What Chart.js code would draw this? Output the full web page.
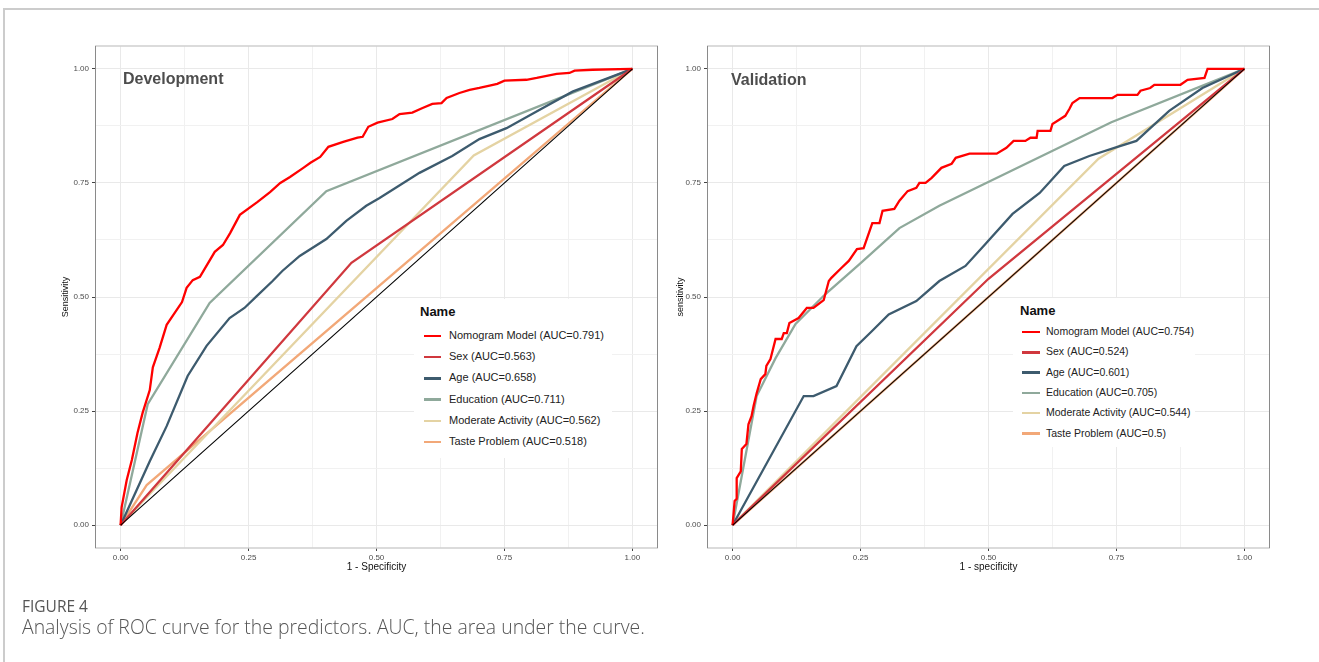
<!DOCTYPE html>
<html><head><meta charset="utf-8">
<script src="https://cdn.jsdelivr.net/npm/chart.js@4.4.1/dist/chart.umd.min.js"></script>
<style>
html,body{margin:0;padding:0;background:#fff;}
body{width:1319px;height:662px;position:relative;overflow:hidden;font-family:"Liberation Sans",Arial,sans-serif;}
#frameTop{position:absolute;left:3px;top:8px;width:1316px;height:0;border-top:2px solid #cccccc;}
#frameLeft{position:absolute;left:3px;top:8px;width:0;height:654px;border-left:2px solid #cccccc;}
canvas{position:absolute;top:0;}
.ptitle{position:absolute;font-weight:bold;font-size:16px;color:#4d4d4d;line-height:16px;white-space:nowrap;}
.legend{position:absolute;background:#fff;}
.legend .lt{position:absolute;font-weight:bold;font-size:13px;color:#111;line-height:13px;white-space:nowrap;}
.legend .key{position:absolute;height:2.5px;}
.legend .lab{position:absolute;font-size:11px;color:#222;white-space:nowrap;line-height:11px;}
.cap1{position:absolute;left:22px;top:597px;font-family:"Open Sans",sans-serif;font-size:15.5px;color:#555;line-height:18px;}
.cap2{position:absolute;left:22px;top:615px;font-family:"Open Sans",sans-serif;font-size:19.4px;font-weight:300;color:#555;line-height:24px;white-space:nowrap;}
</style></head>
<body>
<div id="frameTop"></div><div id="frameLeft"></div>
<canvas id="devChart" width="660" height="600" style="left:0px"></canvas>
<canvas id="valChart" width="659" height="600" style="left:660px"></canvas>
<div class="ptitle" style="left:123px;top:71px">Development</div>
<div class="ptitle" style="left:731px;top:72px">Validation</div>
<div id="devLegend" class="legend" style="left:414px;top:299px;width:198px;height:159px"></div>
<div id="valLegend" class="legend" style="left:1013px;top:298px;width:182px;height:149px"></div>
<div class="cap1">FIGURE 4</div>
<div class="cap2">Analysis of ROC curve for the predictors. AUC, the area under the curve.</div>
<script>
// ---------- data ----------
const seriesNames = ['Nomogram Model', 'Sex', 'Age', 'Education', 'Moderate Activity', 'Taste Problem'];
const seriesColors = ['#ff0000', '#d0383e', '#3d5b6e', '#8fa99b', '#e4d3a3', '#f2a878'];
const devAUC = ['0.791', '0.563', '0.658', '0.711', '0.562', '0.518'];
const valAUC = ['0.754', '0.524', '0.601', '0.705', '0.544', '0.5'];
const tickValues = [0, 0.125, 0.25, 0.375, 0.5, 0.625, 0.75, 0.875, 1];
const reference = [[0, 0], [1, 1]];

// Development cohort ROC points [1 - specificity, sensitivity]
const devNomogram = [[0,0],[0.002,0.039],[0.012,0.099],[0.022,0.143],[0.033,0.202],[0.043,0.246],[0.057,0.296],[0.063,0.346],[0.076,0.388],[0.090,0.439],[0.120,0.489],[0.129,0.520],[0.141,0.537],[0.155,0.544],[0.184,0.599],[0.200,0.614],[0.214,0.640],[0.233,0.680],[0.267,0.708],[0.292,0.730],[0.312,0.750],[0.331,0.763],[0.357,0.783],[0.371,0.794],[0.390,0.807],[0.406,0.829],[0.435,0.840],[0.463,0.849],[0.473,0.851],[0.484,0.873],[0.502,0.882],[0.531,0.890],[0.545,0.901],[0.570,0.904],[0.590,0.914],[0.609,0.923],[0.627,0.925],[0.637,0.936],[0.662,0.947],[0.682,0.954],[0.701,0.958],[0.721,0.963],[0.736,0.967],[0.750,0.974],[0.793,0.976],[0.813,0.980],[0.852,0.989],[0.877,0.991],[0.887,0.996],[0.922,0.998],[1,1]];
const devSex = [[0,0],[0.451,0.575],[1,1]];
const devAge = [[0,0],[0.057,0.140],[0.090,0.217],[0.131,0.327],[0.168,0.393],[0.213,0.454],[0.242,0.476],[0.266,0.502],[0.297,0.535],[0.316,0.557],[0.350,0.590],[0.402,0.627],[0.441,0.667],[0.480,0.700],[0.506,0.717],[0.584,0.772],[0.648,0.809],[0.701,0.846],[0.754,0.870],[0.818,0.910],[0.883,0.950],[1,1]];
const devEducation = [[0,0],[0.053,0.265],[0.174,0.487],[0.402,0.732],[1,1]];
const devActivity = [[0,0],[0.05,0.06],[0.69,0.81],[1,1]];
const devTaste = [[0,0],[0.051,0.088],[1,1]];

// Validation cohort ROC points
const valNomogram = [[0,0],[0.004,0.053],[0.008,0.058],[0.008,0.103],[0.016,0.118],[0.018,0.167],[0.027,0.178],[0.031,0.221],[0.037,0.239],[0.041,0.261],[0.047,0.289],[0.055,0.320],[0.064,0.331],[0.066,0.349],[0.074,0.364],[0.084,0.408],[0.096,0.408],[0.100,0.421],[0.106,0.421],[0.111,0.443],[0.129,0.454],[0.145,0.476],[0.158,0.476],[0.178,0.493],[0.188,0.535],[0.193,0.542],[0.213,0.564],[0.227,0.579],[0.243,0.605],[0.256,0.607],[0.273,0.662],[0.287,0.662],[0.293,0.689],[0.316,0.693],[0.326,0.711],[0.342,0.732],[0.359,0.739],[0.365,0.750],[0.377,0.750],[0.389,0.761],[0.408,0.783],[0.428,0.792],[0.436,0.805],[0.463,0.814],[0.516,0.814],[0.535,0.827],[0.549,0.842],[0.572,0.842],[0.582,0.849],[0.594,0.849],[0.596,0.864],[0.621,0.864],[0.625,0.879],[0.635,0.886],[0.650,0.897],[0.658,0.912],[0.664,0.925],[0.678,0.936],[0.742,0.936],[0.752,0.943],[0.791,0.943],[0.797,0.952],[0.816,0.958],[0.824,0.965],[0.875,0.965],[0.889,0.976],[0.922,0.980],[0.928,1.0],[1,1]];
const valSex = [[0,0],[0.5,0.54],[1,1]];
const valAge = [[0,0],[0.139,0.283],[0.158,0.283],[0.203,0.305],[0.242,0.392],[0.272,0.425],[0.305,0.462],[0.359,0.491],[0.404,0.535],[0.455,0.568],[0.494,0.616],[0.547,0.682],[0.600,0.728],[0.648,0.787],[0.697,0.809],[0.752,0.829],[0.789,0.842],[0.814,0.868],[0.853,0.908],[0.918,0.958],[1,1]];
const valEducation = [[0,0],[0.047,0.283],[0.084,0.366],[0.123,0.441],[0.182,0.507],[0.248,0.572],[0.326,0.651],[0.404,0.700],[0.74,0.883],[1,1]];
const valActivity = [[0,0],[0.715,0.803],[1,1]];
const valTaste = [[0,0],[1,1]];

// ---------- drawing ----------
const FONT = '"Liberation Sans", Arial, sans-serif';
const isMajor = v => Math.abs(v * 4 - Math.round(v * 4)) < 1e-6;

const framePlugin = {
  id: 'frame',
  beforeDatasetsDraw(chart) {
    const a = chart.chartArea, c = chart.ctx;
    c.save();
    c.strokeStyle = '#cfcfcf'; c.lineWidth = 1.5;
    c.beginPath(); c.moveTo(a.left, a.top); c.lineTo(a.right, a.top);
    c.moveTo(a.left, a.bottom); c.lineTo(a.right, a.bottom); c.stroke();
    c.strokeStyle = '#8a8a8a'; c.lineWidth = 1;
    c.beginPath(); c.moveTo(a.left + 0.5, a.top); c.lineTo(a.left + 0.5, a.bottom);
    c.moveTo(a.right - 0.5, a.top); c.lineTo(a.right - 0.5, a.bottom); c.stroke();
    c.restore();
  }
};

function toXY(arr) { return arr.map(p => ({ x: p[0], y: p[1] })); }

function axis(titleText, titleSize, titlePad, fitFn, horizontal) {
  return {
    type: 'linear', min: -0.05, max: 1.05,
    afterBuildTicks: s => { s.ticks = tickValues.map(v => ({ value: v })); },
    afterFit: fitFn,
    ticks: {
      autoSkip: false, maxRotation: 0, minRotation: 0,
      padding: horizontal ? 2 : 3,
      color: '#4d4d4d',
      font: { family: FONT, size: 8 },
      callback: v => isMajor(v) ? v.toFixed(2) : ''
    },
    grid: {
      color: ctx => isMajor(ctx.tick.value) ? '#e9e9e9' : '#f1f1f1',
      lineWidth: 1,
      drawTicks: true, tickLength: 3,
      tickColor: ctx => isMajor(ctx.tick.value) ? '#444' : 'rgba(0,0,0,0)'
    },
    border: { display: false },
    title: {
      display: true, text: titleText, color: '#111',
      font: { family: FONT, size: titleSize },
      padding: horizontal ? { top: 0, bottom: titlePad } : { top: titlePad, bottom: 0 }
    }
  };
}

function makeChart(id, sets, xTitle, yTitle, yWidth, yTitlePad, pad) {
  const datasets = [{
    label: 'reference', data: toXY(reference), borderColor: '#000', borderWidth: 1.1,
    showLine: true, pointRadius: 0, fill: false, order: 0
  }];
  sets.forEach((arr, i) => {
    datasets.push({
      label: seriesNames[i], data: toXY(arr), borderColor: seriesColors[i], borderWidth: 2.3,
      showLine: true, pointRadius: 0, fill: false, tension: 0, order: i + 1
    });
  });
  return new Chart(document.getElementById(id), {
    type: 'scatter',
    data: { datasets },
    options: {
      responsive: false, animation: false, devicePixelRatio: 1,
      layout: { padding: pad },
      plugins: { legend: { display: false }, tooltip: { enabled: false } },
      scales: {
        x: axis(xTitle, 10, 15, s => { s.height = 40; }, true),
        y: axis(yTitle, 9, yTitlePad, s => { s.width = yWidth; }, false)
      }
    },
    plugins: [framePlugin]
  });
}

makeChart('devChart', [devNomogram, devSex, devAge, devEducation, devActivity, devTaste],
  '1 - Specificity', 'Sensitivity', 95, 60.5, { top: 46, right: 2, bottom: 12, left: 0 });
makeChart('valChart', [valNomogram, valSex, valAge, valEducation, valActivity, valTaste],
  '1 - specificity', 'sensitivity', 47, 15.5, { top: 46, right: 49, bottom: 12, left: 0 });

function buildLegend(id, aucs, cfg) {
  const el = document.getElementById(id);
  const t = document.createElement('div');
  t.className = 'lt'; t.textContent = 'Name';
  t.style.left = cfg.titleX + 'px'; t.style.top = cfg.titleY + 'px';
  el.appendChild(t);
  seriesNames.forEach((n, i) => {
    const cy = cfg.row0 + i * cfg.step;
    const k = document.createElement('div');
    k.className = 'key'; k.style.background = seriesColors[i];
    k.style.left = cfg.keyX + 'px'; k.style.width = cfg.keyW + 'px'; k.style.top = (cy - 1.25) + 'px';
    el.appendChild(k);
    const l = document.createElement('div');
    l.className = 'lab'; l.textContent = n + ' (AUC=' + aucs[i] + ')';
    l.style.left = cfg.textX + 'px'; l.style.top = (cy - 6) + 'px'; l.style.fontSize = cfg.fs + 'px';
    el.appendChild(l);
  });
}
buildLegend('devLegend', devAUC, { titleX: 6, titleY: 6, row0: 37, step: 21.2, keyX: 10, keyW: 17, textX: 35, fs: 11 });
buildLegend('valLegend', valAUC, { titleX: 7, titleY: 6, row0: 34, step: 20.3, keyX: 9, keyW: 18, textX: 33, fs: 10.5 });
</script>
</body></html>
